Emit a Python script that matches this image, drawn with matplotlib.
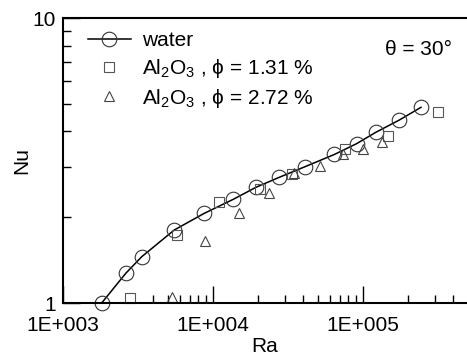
import numpy as np
import matplotlib
matplotlib.use('Agg')
import matplotlib.pyplot as plt
from matplotlib.ticker import FixedLocator, FixedFormatter, NullFormatter

plt.rcParams['font.family'] = ['Liberation Sans', 'DejaVu Sans']
plt.rcParams['mathtext.fontset'] = 'custom'
plt.rcParams['mathtext.rm'] = 'Liberation Sans'
plt.rcParams['mathtext.it'] = 'Liberation Sans:italic'

# water (pure fluid)
ra_water = [1810, 2620, 3350, 5520, 8750, 13650, 19350, 27660, 41050,
            64400, 90800, 121600, 174600, 243600]
nu_water = [1.0, 1.271, 1.454, 1.804, 2.064, 2.311, 2.547, 2.761, 3.008,
            3.32, 3.625, 3.97, 4.385, 4.86]

# Al2O3, phi = 1.31 %
ra_131 = [2797, 5781, 11010, 20570, 33480, 75300, 147500, 314000]
nu_131 = [1.041, 1.733, 2.267, 2.522, 2.847, 3.464, 3.861, 4.691]

# Al2O3, phi = 2.72 %
ra_272 = [5310, 8850, 14970, 23710, 34830, 51680, 73250, 100400, 134500]
nu_272 = [1.052, 1.650, 2.074, 2.438, 2.851, 3.037, 3.333, 3.457, 3.681]

fs = 15

fig = plt.figure(figsize=(4.67, 3.58), dpi=100)
ax = fig.add_axes([0.1349, 0.1536, 1 - 0.1349, 0.9497 - 0.1536])

ax.plot(ra_water, nu_water, '-', color='black', lw=1.1, label='water',
        marker='o', ms=10.5, mfc='none', mec='#333333', mew=0.8, clip_on=False)
ax.plot(ra_131, nu_131, 's', ms=7.5, mfc='none', mec='#555555', mew=0.8,
        clip_on=False, label='Al$_2$O$_3$ , \u03d5 = 1.31 %')
ax.plot(ra_272, nu_272, '^', ms=7, mfc='none', mec='#444444', mew=0.8,
        clip_on=False, label='Al$_2$O$_3$ , \u03d5 = 2.72 %')

ax.set_xscale('log')
ax.set_yscale('log')
ax.set_xlim(1e3, 10 ** (3 + 404 / 150))
ax.set_ylim(1, 10)

ax.xaxis.set_major_locator(FixedLocator([1e3, 1e4, 1e5]))
ax.xaxis.set_major_formatter(FixedFormatter(['1E+003', '1E+004', '1E+005']))
xminor = [k * 1e3 for k in range(4, 10)] + [k * 1e4 for k in range(2, 10)] + \
         [k * 1e5 for k in range(2, 10)]
ax.xaxis.set_minor_locator(FixedLocator(xminor))
ax.xaxis.set_minor_formatter(NullFormatter())

ax.yaxis.set_major_locator(FixedLocator([1, 10]))
ax.yaxis.set_major_formatter(FixedFormatter(['1', '10']))
ax.yaxis.set_minor_locator(FixedLocator(list(range(2, 10))))
ax.yaxis.set_minor_formatter(NullFormatter())

ax.tick_params(which='both', direction='in', top=False, right=False,
               labelsize=fs, width=1.0, color='black')
ax.tick_params(which='major', length=12, pad=9)
ax.tick_params(which='minor', length=6)
ax.tick_params(axis='y', which='major', pad=5)

for s in ['left', 'bottom', 'top']:
    ax.spines[s].set_linewidth(1.5)
ax.spines['right'].set_visible(False)

ax.set_xlabel('Ra', fontsize=fs, labelpad=2)
ax.set_ylabel('Nu', fontsize=fs, labelpad=1)

ax.text(0.881, 0.888, '\u03b8 = 30\u00b0', transform=ax.transAxes,
        fontsize=fs, ha='center', va='center')

ax.legend(loc='upper left', frameon=False, fontsize=fs, handlelength=2.1,
          handletextpad=0.5, labelspacing=0.32, borderaxespad=0.2,
          bbox_to_anchor=(0.03, 0.997))

fig.savefig('out.png', dpi=100)
